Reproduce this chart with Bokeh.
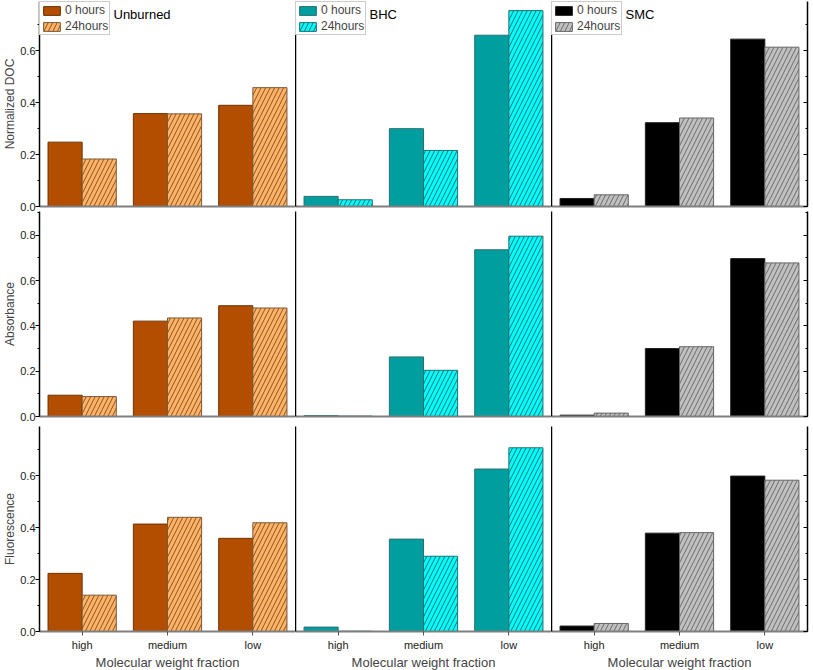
from bokeh.plotting import figure
from bokeh.layouts import gridplot
from bokeh.models import (Range1d, FactorRange, Label, Legend, LegendItem,
                          SingleIntervalTicker, FixedTicker, NumeralTickFormatter,
                          LinearAxis, ColumnDataSource, CustomLabelingPolicy)
from bokeh.transform import dodge
from bokeh.embed import file_html
from bokeh.resources import INLINE

fractions = ["high", "medium", "low"]
series = ["0 hours", "24hours"]
sites = ["Unburned", "BHC", "SMC"]
measures = ["Normalized DOC", "Absorbance", "Fluorescence"]
x_title = "Molecular weight fraction"

# Normalized DOC
unburned_doc_0h = [0.248, 0.358, 0.390]
unburned_doc_24h = [0.183, 0.357, 0.458]
bhc_doc_0h = [0.039, 0.300, 0.660]
bhc_doc_24h = [0.026, 0.216, 0.755]
smc_doc_0h = [0.031, 0.323, 0.645]
smc_doc_24h = [0.045, 0.341, 0.614]

# Absorbance
unburned_abs_0h = [0.094, 0.421, 0.489]
unburned_abs_24h = [0.088, 0.435, 0.479]
bhc_abs_0h = [0.004, 0.263, 0.736]
bhc_abs_24h = [0.002, 0.204, 0.796]
smc_abs_0h = [0.006, 0.300, 0.697]
smc_abs_24h = [0.015, 0.308, 0.678]

# Fluorescence
unburned_flu_0h = [0.224, 0.414, 0.359]
unburned_flu_24h = [0.140, 0.440, 0.419]
bhc_flu_0h = [0.017, 0.356, 0.626]
bhc_flu_24h = [0.001, 0.290, 0.708]
smc_flu_0h = [0.021, 0.379, 0.599]
smc_flu_24h = [0.031, 0.381, 0.583]

y_max = [0.79, 0.905, 0.79]

data = [
    [(unburned_doc_0h, unburned_doc_24h), (bhc_doc_0h, bhc_doc_24h), (smc_doc_0h, smc_doc_24h)],
    [(unburned_abs_0h, unburned_abs_24h), (bhc_abs_0h, bhc_abs_24h), (smc_abs_0h, smc_abs_24h)],
    [(unburned_flu_0h, unburned_flu_24h), (bhc_flu_0h, bhc_flu_24h), (smc_flu_0h, smc_flu_24h)],
]

fill_0h = ["#B34D00", "#009E9E", "#000000"]
fill_24h = ["#FFB366", "#00FFFF", "#C0C0C0"]
line_0h = ["#6E3300", "#2B6F6F", "#222222"]
line_24h = ["#7A5A3A", "#2B6F6F", "#666666"]
hatch_col = ["#6B3A10", "#1F4F4F", "#555555"]

FONT = "Liberation Sans"
FW = 256
FH = [205, 205, 205]
TOP = [1, 0, 0]
BOTTOM = [5, 10, 37]

def no_labels():
    return CustomLabelingPolicy(code="return []")

rows = []
for r in range(3):
    row = []
    for c in range(3):
        left = 38 if c == 0 else 0
        right = 5 if c == 2 else 0
        p = figure(x_range=FactorRange(*fractions), y_range=Range1d(0, y_max[r]),
                   frame_width=FW, frame_height=FH[r],
                   min_border_left=left, min_border_right=right,
                   min_border_top=TOP[r], min_border_bottom=BOTTOM[r],
                   output_backend="svg", toolbar_location=None)
        p.outline_line_color = None
        p.grid.visible = False
        p.background_fill_color = "white"
        p.border_fill_color = "white"

        v0, v24 = data[r][c]
        src = ColumnDataSource(dict(frac=fractions, v0=v0, v24=v24))
        r0 = p.vbar(x=dodge("frac", -0.2, range=p.x_range), top="v0", width=0.4,
                    source=src, fill_color=fill_0h[c], line_color=line_0h[c], line_width=1)
        r24 = p.vbar(x=dodge("frac", 0.2, range=p.x_range), top="v24", width=0.4,
                     source=src, fill_color=fill_24h[c], line_color=line_24h[c], line_width=1,
                     hatch_pattern="/", hatch_color=hatch_col[c], hatch_scale=9,
                     hatch_weight=0.8)

        # y axis
        ya = p.yaxis[0]
        ya.axis_line_color = "black"
        ya.axis_line_width = 1.5
        if c == 0:
            ya.ticker = SingleIntervalTicker(interval=0.2, num_minor_ticks=2)
            ya.formatter = NumeralTickFormatter(format="0.0")
            ya.axis_label = measures[r]
            ya.axis_label_text_font = FONT
            ya.axis_label_text_font_style = "normal"
            ya.axis_label_text_font_size = "12px"
            ya.axis_label_standoff = 0
            ya.major_label_text_font = FONT
            ya.major_label_text_font_size = "11px"
            ya.major_label_text_color = "#222222"
            ya.major_label_standoff = 0
            ya.major_tick_out = 4
            ya.major_tick_in = 0
            ya.minor_tick_out = 2
            ya.minor_tick_in = 0
            ya.major_tick_line_color = "black"
            ya.minor_tick_line_color = "black"
        else:
            ya.ticker = FixedTicker(ticks=[])
            ya.major_label_policy = no_labels()
            ya.major_label_text_font_size = "0px"
            ya.major_label_standoff = 0
            ya.major_tick_out = 0
            ya.minor_tick_out = 0

        if c == 2:
            ra = LinearAxis(ticker=SingleIntervalTicker(interval=0.2, num_minor_ticks=2),
                            major_tick_in=4, major_tick_out=0, minor_tick_in=2, minor_tick_out=0,
                            major_label_text_font_size="0px", major_label_standoff=0,
                            major_label_policy=no_labels(),
                            axis_line_color="black", axis_line_width=1.5)
            p.add_layout(ra, "right")

        # x axis
        xa = p.xaxis[0]
        xa.axis_line_color = "#7F7F7F"
        xa.axis_line_width = 2
        xa.major_tick_line_color = "#555555"
        if r == 2:
            xa.major_tick_out = 4
            xa.major_tick_in = 0
            xa.major_label_text_font = FONT
            xa.major_label_text_font_size = "11px"
            xa.major_label_text_color = "#222222"
            xa.major_label_standoff = 3
            xa.axis_label = x_title
            xa.axis_label_text_font = FONT
            xa.axis_label_text_font_style = "normal"
            xa.axis_label_text_font_size = "13px"
            xa.axis_label_standoff = 1
        else:
            xa.major_label_policy = no_labels()
            xa.major_label_text_font_size = "0px"
            xa.major_label_standoff = 0
            xa.major_tick_out = 0
            xa.major_tick_in = 0

        if r == 0:
            legend = Legend(items=[LegendItem(label=series[0], renderers=[r0]),
                                   LegendItem(label=series[1], renderers=[r24])],
                            location="top_left", margin=0, padding=1, spacing=2,
                            glyph_width=21, glyph_height=11, label_height=11,
                            label_standoff=3, label_text_font=FONT,
                            label_text_font_size="12px", border_line_color="#999999",
                            background_fill_alpha=1.0)
            p.add_layout(legend, "center")
            p.add_layout(Label(x=0, y=y_max[r], x_offset=74, y_offset=-13,
                               text=sites[c], text_font=FONT, text_font_size="13px",
                               text_baseline="middle", text_color="black"))
        row.append(p)
    rows.append(row)

grid = gridplot(rows, toolbar_location=None)
open("out.html", "w").write(file_html(grid, INLINE))
